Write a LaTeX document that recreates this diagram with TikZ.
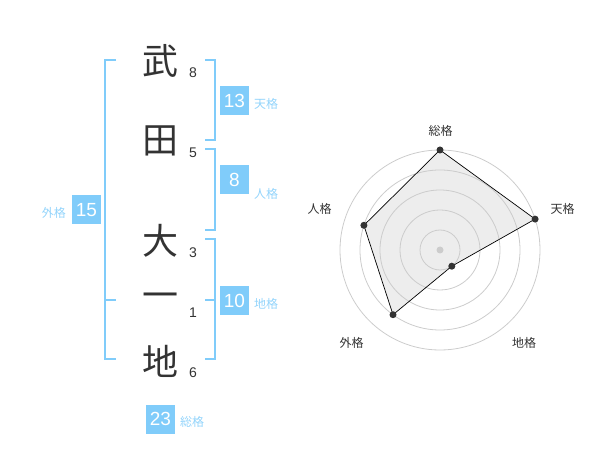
\documentclass[tikz,border=0pt]{standalone}
\usepackage{fontspec}
\setmainfont{Liberation Sans}
\newfontfamily\jp{Noto Sans CJK JP}
\definecolor{kakublue}{RGB}{128,204,250}
\definecolor{kakutext}{RGB}{51,51,51}
\tikzset{
  kanji/.style={font=\jp\fontsize{36}{36}\selectfont, text=kakutext, inner sep=0pt},
  strokes/.style={font=\fontsize{14}{14}\selectfont, text=kakutext, inner sep=0pt},
  numbox/.style={fill=kakublue, text=white, minimum size=29pt, inner sep=0pt, font=\fontsize{19}{19}\selectfont},
  kakulabel/.style={font=\jp\fontsize{12}{12}\selectfont, text=kakublue!85, inner sep=0pt},
  bracket/.style={draw=kakublue, line width=2pt},
  ring/.style={draw=black!20, line width=0.8pt},
  axislabel/.style={font=\jp\fontsize{12}{12}\selectfont, text=kakutext, inner sep=0pt},
  vdot/.style={circle, fill=kakutext, inner sep=0pt, minimum size=7pt}
}
\begin{document}
\begin{tikzpicture}[x=1pt,y=-1pt]
\useasboundingbox (0,0) rectangle (600,470);

% name
\node[kanji] (k1) at (160,61) {武};
\node[kanji] (k2) at (160,141) {田};
\node[kanji] (k3) at (160,241) {大};
\node[kanji] (k4) at (160,301) {一};
\node[kanji] (k5) at (160,361) {地};
\node[strokes] (n1) at (193,73) {8};
\node[strokes] (n2) at (193,153) {5};
\node[strokes] (n3) at (193,253) {3};
\node[strokes] (n4) at (193,313) {1};
\node[strokes] (n5) at (193,373) {6};

% brackets
\draw[bracket] (205,60) -- (215,60) -- (215,140) -- (205,140);
\draw[bracket] (205,149) -- (215,149) -- (215,230) -- (205,230);
\draw[bracket] (205,239) -- (215,239) -- (215,359) -- (205,359);
\draw[bracket] (205,300) -- (215,300);
\draw[bracket] (116,60) -- (105,60) -- (105,359) -- (116,359);
\draw[bracket] (105,300) -- (116,300);

% results
\node[numbox] (ten) at (234.5,100.5) {13};
\node[kakulabel,anchor=west] (tenl) at (254,104) {天格};
\node[numbox] (jin) at (234.5,180) {8};
\node[kakulabel,anchor=west] (jinl) at (254,194) {人格};
\node[numbox] (chi) at (234.5,300.5) {10};
\node[kakulabel,anchor=west] (chil) at (254,304) {地格};
\node[numbox] (gai) at (86.5,210) {15};
\node[kakulabel,anchor=east] (gail) at (66,213) {外格};
\node[numbox] (sou) at (160.5,419) {23};
\node[kakulabel,anchor=west] (soul) at (180,422) {総格};

% radar
\coordinate (c) at (440,250);
\coordinate (pso) at (440,150);
\coordinate (pten) at (535.1,219.1);
\coordinate (pchi) at (451.8,266.2);
\coordinate (pgai) at (393.0,314.7);
\coordinate (pjin) at (363.9,225.3);
\fill[black!7] (pso) -- (pten) -- (pchi) -- (pgai) -- (pjin) -- cycle;
\draw[ring] (c) circle (20pt) (c) circle (40pt) (c) circle (60pt) (c) circle (80pt) (c) circle (100pt);
\fill[black!20] (c) circle (3.5pt);
\draw[black, line width=0.7pt] (pso) -- (pten) -- (pchi) -- (pgai) -- (pjin) -- cycle;
\node[vdot] (dso) at (pso) {};
\node[vdot] (dten) at (pten) {};
\node[vdot] (dchi) at (pchi) {};
\node[vdot] (dgai) at (pgai) {};
\node[vdot] (djin) at (pjin) {};

\node[axislabel] (aso) at (440.5,130.5) {総格};
\node[axislabel] (aten) at (562.5,209) {天格};
\node[axislabel] (ajin) at (319.5,209) {人格};
\node[axislabel] (agai) at (351.5,342.5) {外格};
\node[axislabel] (achi) at (524,342.5) {地格};
\end{tikzpicture}
\end{document}
